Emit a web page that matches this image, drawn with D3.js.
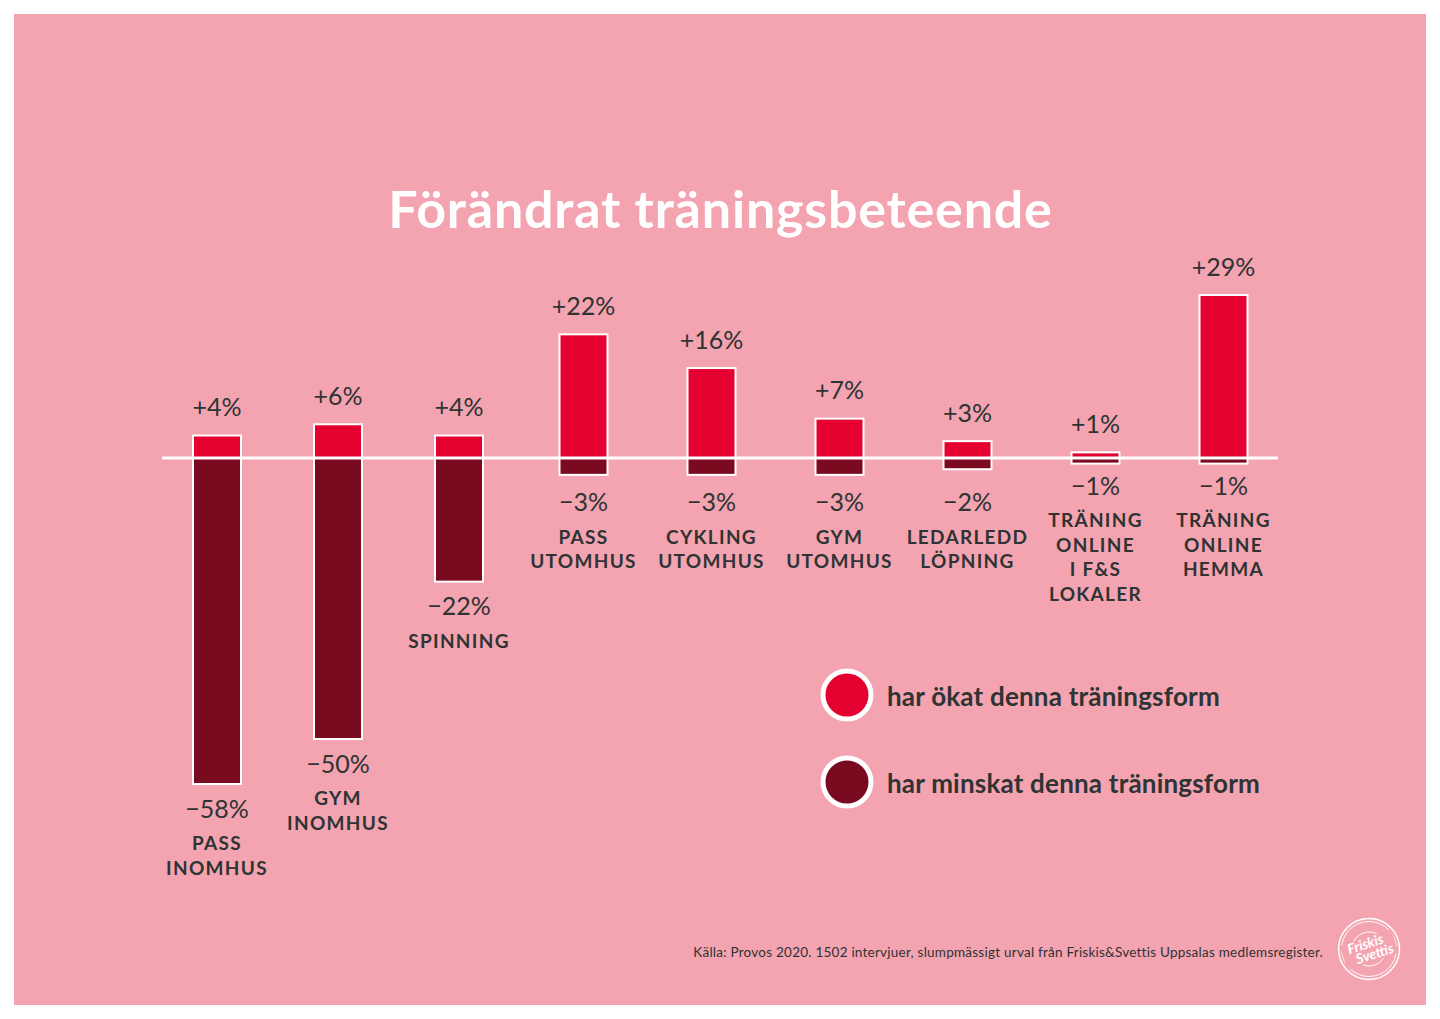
<!DOCTYPE html>
<html>
<head>
<meta charset="utf-8">
<script src="https://cdn.jsdelivr.net/npm/d3@7"></script>
<style>
  html, body { margin: 0; padding: 0; background: #fff; }
  text { font-family: Lato, sans-serif; fill: #2e3333; }
</style>
</head>
<body>
<script>
const svgWidth = 1440
const svgHeight = 1019

const categories = ["pass-in", "gym-in", "spinning", "pass-ut", "cykling", "gym-ut", "ledarledd", "online-fs", "online-hem"]
const increased = [4, 6, 4, 22, 16, 7, 3, 1, 29]
const decreased = [58, 50, 22, 3, 3, 3, 2, 1, 1]
const names = [
    ["PASS", "INOMHUS"],
    ["GYM", "INOMHUS"],
    ["SPINNING"],
    ["PASS", "UTOMHUS"],
    ["CYKLING", "UTOMHUS"],
    ["GYM", "UTOMHUS"],
    ["LEDARLEDD", "LÖPNING"],
    ["TRÄNING", "ONLINE", "I F&S", "LOKALER"],
    ["TRÄNING", "ONLINE", "HEMMA"]
]
const legendLabels = ["har ökat denna träningsform", "har minskat denna träningsform"]

const colorUp = "#e4002f"
const colorDown = "#7a0a20"
const colorPanel = "#f4a3b0"

const svg = d3.select("body").append("svg")
    .attr("width", svgWidth)
    .attr("height", svgHeight)
    .style("display", "block")

svg.append("rect")
    .attr("x", 14).attr("y", 14)
    .attr("width", 1412).attr("height", 991)
    .attr("fill", colorPanel)

// the first three columns sit a bit closer together than the others
const xLeft = d3.scalePoint().domain(categories.slice(0, 3)).range([217, 459])
const xRight = d3.scalePoint().domain(categories.slice(3)).range([583.5, 1223.5])
const x = c => categories.indexOf(c) < 3 ? xLeft(c) : xRight(c)

const y = d3.scaleLinear().domain([-58, 29]).range([784, 295])

const barWidth = 48

svg.append("text")
    .attr("x", 720.5).attr("y", 228)
    .attr("text-anchor", "middle")
    .attr("font-size", 52)
    .attr("font-weight", 700)
    .attr("letter-spacing", 0.8)
    .style("fill", "#fff")
    .text("Förändrat träningsbeteende")

const cols = svg.selectAll("g.col")
    .data(categories)
    .join("g")
    .attr("class", "col")

cols.append("rect")
    .attr("x", d => x(d) - barWidth / 2)
    .attr("y", (d, i) => y(increased[i]))
    .attr("width", barWidth)
    .attr("height", (d, i) => y(0) - y(increased[i]))
    .attr("fill", colorUp)
    .attr("stroke", "#fff")
    .attr("stroke-width", 2)

cols.append("rect")
    .attr("x", d => x(d) - barWidth / 2)
    .attr("y", y(0))
    .attr("width", barWidth)
    .attr("height", (d, i) => y(-decreased[i]) - y(0))
    .attr("fill", colorDown)
    .attr("stroke", "#fff")
    .attr("stroke-width", 2)

svg.append("line")
    .attr("x1", 162).attr("x2", 1278)
    .attr("y1", y(0)).attr("y2", y(0))
    .attr("stroke", "#fff")
    .attr("stroke-width", 3)

cols.append("text")
    .attr("x", d => x(d))
    .attr("y", (d, i) => y(increased[i]) - 19.5)
    .attr("text-anchor", "middle")
    .attr("font-size", 25)
    .text((d, i) => `+${increased[i]}%`)

// the -2% and -3% labels line up on one row under the short bars
const downLabelY = v => {
    if (v === 2 || v === 3) return y(-3) + 36.5
    if (v === 1) return y(-1) + 31
    return y(-v) + 33.5
}

cols.append("text")
    .attr("x", d => x(d))
    .attr("y", (d, i) => downLabelY(decreased[i]))
    .attr("text-anchor", "middle")
    .attr("font-size", 25)
    .text((d, i) => `−${decreased[i]}%`)

cols.each(function (d, i) {
    d3.select(this).selectAll("text.name")
        .data(names[i])
        .join("text")
        .attr("class", "name")
        .attr("x", x(d))
        .attr("y", (n, k) => downLabelY(decreased[i]) + 32.5 + k * 24.5)
        .attr("text-anchor", "middle")
        .attr("font-size", 19)
        .attr("font-weight", 700)
        .attr("letter-spacing", 1.3)
        .text(n => n)
})

const legend = svg.selectAll("g.legend")
    .data(legendLabels)
    .join("g")
    .attr("class", "legend")
    .attr("transform", (d, i) => `translate(847, ${695 + i * 87})`)

legend.append("circle")
    .attr("r", 24)
    .attr("fill", (d, i) => i === 0 ? colorUp : colorDown)
    .attr("stroke", "#fff")
    .attr("stroke-width", 5)

legend.append("text")
    .attr("x", 40).attr("y", 11)
    .attr("font-size", 26)
    .attr("font-weight", 700)
    .attr("letter-spacing", 0.2)
    .text(d => d)

svg.append("text")
    .attr("x", 1323).attr("y", 957)
    .attr("text-anchor", "end")
    .attr("font-size", 13.5)
    .attr("letter-spacing", 0.24)
    .text("Källa: Provos 2020. 1502 intervjuer, slumpmässigt urval från Friskis&Svettis Uppsalas medlemsregister.")

// logo
const logo = svg.append("g").attr("transform", "translate(1369, 949)")
logo.append("circle").attr("r", 30.5).attr("fill", "none").attr("stroke", "#fff").attr("stroke-width", 1.5)
logo.append("circle").attr("r", 27.5).attr("fill", "none").attr("stroke", "#fff").attr("stroke-width", 1)
logo.append("circle").attr("r", 17).attr("fill", "none").attr("stroke", "#fff").attr("stroke-width", 1)
const logoBand = logo.append("g").attr("transform", "rotate(-18)")
logoBand.append("rect").attr("x", -27).attr("y", -12).attr("width", 54).attr("height", 25).attr("fill", colorPanel)
logoBand.append("text").attr("x", -2).attr("y", -1)
    .attr("text-anchor", "middle").attr("font-size", 14).attr("font-style", "italic").attr("font-weight", 700)
    .style("fill", "#fff").text("Friskis")
logoBand.append("text").attr("x", 4).attr("y", 11)
    .attr("text-anchor", "middle").attr("font-size", 14).attr("font-style", "italic").attr("font-weight", 700)
    .style("fill", "#fff").text("Svettis")
</script>
</body>
</html>
